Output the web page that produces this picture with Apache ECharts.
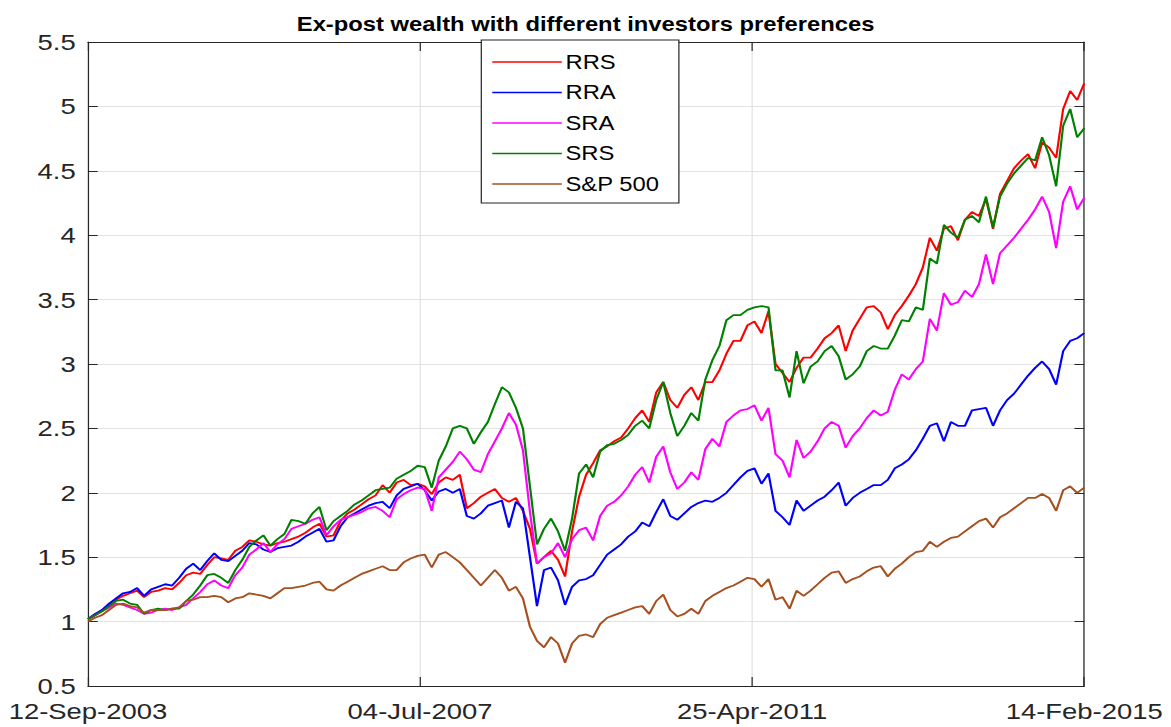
<!DOCTYPE html>
<html>
<head>
<meta charset="utf-8">
<script src="https://cdn.jsdelivr.net/npm/echarts@6/dist/echarts.min.js"></script>
<style>
html, body { margin: 0; padding: 0; background: #fff; overflow: hidden; }
/* the reference figure is stretched horizontally, so the whole chart is too */
#main { width: 960px; height: 727px; transform: scaleX(1.22); transform-origin: 0 0; }
</style>
</head>
<body>
<div id="main"></div>
<script>
var tickLabels = ['12-Sep-2003', '04-Jul-2007', '25-Apr-2011', '14-Feb-2015'];
var tickDays = 1391;          // days between two date ticks
var totalDays = 4173;         // 12-Sep-2003 .. 14-Feb-2015

var RRS = [1.02,1.05,1.09,1.13,1.17,1.20,1.22,1.24,1.19,1.23,
    1.24,1.26,1.25,1.30,1.36,1.38,1.37,1.44,1.50,1.49,
    1.48,1.55,1.58,1.63,1.62,1.60,1.59,1.61,1.62,1.64,
    1.66,1.69,1.73,1.76,1.66,1.67,1.78,1.84,1.87,1.91,
    1.95,1.98,2.06,2.00,2.08,2.10,2.06,2.07,2.05,1.99,
    2.08,2.12,2.10,2.14,1.88,1.92,1.97,2.00,2.03,1.96,
    1.93,1.96,1.86,1.72,1.45,1.50,1.55,1.48,1.35,1.70,
    1.97,2.14,2.23,2.33,2.36,2.40,2.43,2.50,2.58,2.64,
    2.55,2.78,2.86,2.72,2.66,2.76,2.82,2.72,2.86,2.86,
    2.95,3.08,3.18,3.18,3.30,3.33,3.24,3.41,3.00,2.93,
    2.86,2.97,3.05,3.05,3.12,3.20,3.24,3.30,3.10,3.26,
    3.35,3.44,3.45,3.40,3.27,3.38,3.45,3.53,3.62,3.75,
    3.98,3.88,4.05,4.07,3.96,4.12,4.18,4.15,4.28,4.05,
    4.32,4.42,4.52,4.58,4.63,4.52,4.72,4.68,4.60,4.98,
    5.12,5.05,5.18];

var RRA = [1.02,1.06,1.09,1.14,1.18,1.22,1.23,1.26,1.20,1.25,
    1.27,1.29,1.28,1.34,1.41,1.45,1.40,1.47,1.53,1.48,
    1.47,1.51,1.55,1.61,1.60,1.56,1.54,1.57,1.58,1.59,
    1.62,1.66,1.69,1.72,1.62,1.63,1.74,1.81,1.84,1.87,
    1.90,1.92,1.93,1.88,1.98,2.03,2.05,2.07,2.02,1.94,
    2.01,2.03,2.00,2.03,1.82,1.80,1.84,1.90,1.92,1.94,
    1.73,1.93,1.88,1.50,1.12,1.40,1.42,1.32,1.13,1.27,
    1.32,1.33,1.36,1.44,1.52,1.56,1.60,1.66,1.70,1.77,
    1.74,1.85,1.95,1.82,1.79,1.84,1.89,1.92,1.94,1.93,
    1.96,2.00,2.06,2.12,2.17,2.19,2.07,2.15,1.86,1.81,
    1.75,1.94,1.86,1.90,1.94,1.97,2.02,2.08,1.90,1.96,
    2.00,2.03,2.06,2.06,2.10,2.19,2.22,2.26,2.33,2.42,
    2.52,2.54,2.40,2.55,2.52,2.52,2.64,2.65,2.66,2.52,
    2.64,2.72,2.77,2.84,2.91,2.97,3.02,2.96,2.84,3.10,
    3.18,3.20,3.24];

var SRA = [1.02,1.05,1.08,1.11,1.14,1.13,1.11,1.09,1.06,1.07,
    1.09,1.10,1.09,1.11,1.13,1.18,1.23,1.29,1.32,1.28,
    1.26,1.36,1.42,1.52,1.56,1.61,1.54,1.60,1.64,1.72,
    1.74,1.76,1.79,1.81,1.67,1.74,1.79,1.81,1.83,1.85,
    1.88,1.89,1.86,1.81,1.95,1.99,2.02,2.04,2.03,1.86,
    2.12,2.18,2.24,2.32,2.26,2.18,2.16,2.30,2.40,2.50,
    2.62,2.53,2.33,1.85,1.45,1.50,1.53,1.61,1.50,1.64,
    1.71,1.73,1.63,1.82,1.90,1.93,1.98,2.05,2.14,2.20,
    2.08,2.28,2.36,2.16,2.03,2.08,2.16,2.10,2.34,2.42,
    2.36,2.55,2.60,2.64,2.65,2.68,2.56,2.66,2.30,2.25,
    2.12,2.41,2.27,2.32,2.40,2.50,2.55,2.52,2.35,2.44,
    2.50,2.58,2.64,2.60,2.63,2.80,2.92,2.88,2.96,3.02,
    3.35,3.26,3.55,3.46,3.48,3.57,3.52,3.62,3.85,3.62,
    3.86,3.92,3.98,4.05,4.12,4.20,4.30,4.18,3.90,4.26,
    4.38,4.20,4.29];

var SRS = [1.02,1.05,1.08,1.12,1.16,1.17,1.14,1.13,1.06,1.09,
    1.10,1.09,1.10,1.10,1.16,1.21,1.28,1.36,1.37,1.34,
    1.30,1.40,1.48,1.58,1.63,1.67,1.59,1.64,1.68,1.79,
    1.78,1.76,1.84,1.89,1.71,1.78,1.82,1.86,1.91,1.94,
    1.98,2.02,2.03,2.04,2.11,2.14,2.17,2.21,2.20,2.04,
    2.25,2.36,2.50,2.52,2.50,2.38,2.47,2.55,2.69,2.82,
    2.78,2.66,2.50,2.05,1.60,1.72,1.80,1.70,1.55,1.80,
    2.15,2.22,2.12,2.32,2.37,2.38,2.41,2.45,2.52,2.56,
    2.50,2.72,2.86,2.62,2.44,2.52,2.62,2.56,2.88,3.03,
    3.14,3.34,3.38,3.38,3.42,3.44,3.45,3.44,2.95,2.95,
    2.74,3.10,2.85,2.98,3.02,3.10,3.14,3.06,2.88,2.92,
    2.98,3.10,3.14,3.12,3.12,3.22,3.34,3.33,3.44,3.42,
    3.82,3.78,4.08,4.02,3.98,4.12,4.15,4.10,4.30,4.06,
    4.30,4.40,4.48,4.54,4.60,4.58,4.76,4.62,4.38,4.85,
    4.98,4.76,4.83];

var SP500 = [1.00,1.03,1.05,1.09,1.13,1.14,1.12,1.11,1.07,1.09,
    1.09,1.09,1.10,1.11,1.16,1.17,1.19,1.19,1.20,1.19,
    1.15,1.18,1.19,1.22,1.21,1.20,1.18,1.22,1.26,1.26,
    1.27,1.28,1.30,1.31,1.25,1.24,1.28,1.31,1.34,1.37,
    1.39,1.41,1.43,1.40,1.40,1.46,1.49,1.51,1.52,1.42,
    1.52,1.54,1.50,1.46,1.40,1.34,1.28,1.34,1.40,1.34,
    1.24,1.27,1.18,0.96,0.85,0.80,0.88,0.83,0.68,0.83,
    0.89,0.90,0.88,0.98,1.03,1.05,1.07,1.09,1.11,1.12,
    1.06,1.16,1.21,1.09,1.04,1.06,1.10,1.06,1.16,1.20,
    1.23,1.26,1.28,1.31,1.34,1.33,1.27,1.33,1.17,1.19,
    1.10,1.24,1.20,1.24,1.29,1.34,1.38,1.39,1.30,1.33,
    1.35,1.39,1.42,1.43,1.35,1.41,1.45,1.50,1.54,1.55,
    1.62,1.58,1.62,1.65,1.66,1.70,1.74,1.78,1.80,1.73,
    1.81,1.84,1.88,1.92,1.96,1.96,1.99,1.96,1.86,2.02,
    2.05,2.00,2.04];

var names = ['RRS', 'RRA', 'SRA', 'SRS', 'S&P 500'];
var colors = ['#ff0000', '#0000ff', '#ff00ff', '#008000', '#a5501e'];
var values = [RRS, RRA, SRA, SRS, SP500];

var font = 'Liberation Sans, Arial, Helvetica, sans-serif';
var axisColor = '#262626';
var step = totalDays / (RRS.length - 1);

var chartDom = document.getElementById('main');
var myChart = echarts.init(chartDom, null, { renderer: 'svg' });
var option;

function dateAxis(pos, labels) {
    return {
        type: 'value',
        position: pos,
        min: 0,
        max: totalDays,
        interval: tickDays,
        axisLine: { show: true, onZero: false, lineStyle: { color: axisColor, width: 1 } },
        axisTick: { show: true, inside: true, length: 9, lineStyle: { color: axisColor } },
        axisLabel: {
            show: labels,
            fontSize: 22.5,
            fontFamily: font,
            color: axisColor,
            margin: 13,
            showMinLabel: true,
            showMaxLabel: true,
            hideOverlap: false,
            formatter: function (v) { return tickLabels[Math.round(v / tickDays)]; }
        },
        splitLine: { show: labels, lineStyle: { color: '#e2e2e2', width: 1 } }
    };
}

function wealthAxis(pos, labels) {
    return {
        type: 'value',
        position: pos,
        min: 0.5,
        max: 5.5,
        interval: 0.5,
        axisLine: { show: true, onZero: false, lineStyle: { color: axisColor, width: 1 } },
        axisTick: { show: true, inside: true, length: 8, lineStyle: { color: axisColor } },
        axisLabel: {
            show: labels,
            fontSize: 22.5,
            fontFamily: font,
            color: axisColor,
            margin: 10
        },
        splitLine: { show: labels, lineStyle: { color: '#e2e2e2', width: 1 } }
    };
}

option = {
    animation: false,
    backgroundColor: '#ffffff',
    title: {
        text: 'Ex-post wealth with different investors preferences',
        left: 'center',
        top: 9,
        textStyle: { fontSize: 19.5, fontWeight: 'bold', fontFamily: font, color: '#000' }
    },
    legend: {
        data: names,
        orient: 'vertical',
        left: 394.5,
        top: 40,
        padding: [11, 16, 8, 9],
        icon: 'rect',
        itemWidth: 57,
        itemHeight: 1.6,
        itemGap: 8.5,
        backgroundColor: '#ffffff',
        borderColor: axisColor,
        borderWidth: 1,
        borderRadius: 0,
        textStyle: { fontSize: 19.5, lineHeight: 22, fontFamily: font, color: '#000', padding: [0, 0, 0, -2] }
    },
    grid: {
        left: 72.1,
        right: 71.3,
        top: 42,
        bottom: 41,
        containLabel: false,
        outerBoundsMode: 'none'
    },
    xAxis: [dateAxis('bottom', true), dateAxis('top', false)],
    yAxis: [wealthAxis('left', true), wealthAxis('right', false)],
    series: names.map(function (name, k) {
        return {
            name: name,
            type: 'line',
            xAxisIndex: 0,
            yAxisIndex: 0,
            symbol: 'none',
            color: colors[k],
            lineStyle: { color: colors[k], width: 1.8 },
            data: values[k].map(function (v, i) { return [i * step, v]; })
        };
    })
};

option && myChart.setOption(option);
</script>
</body>
</html>
